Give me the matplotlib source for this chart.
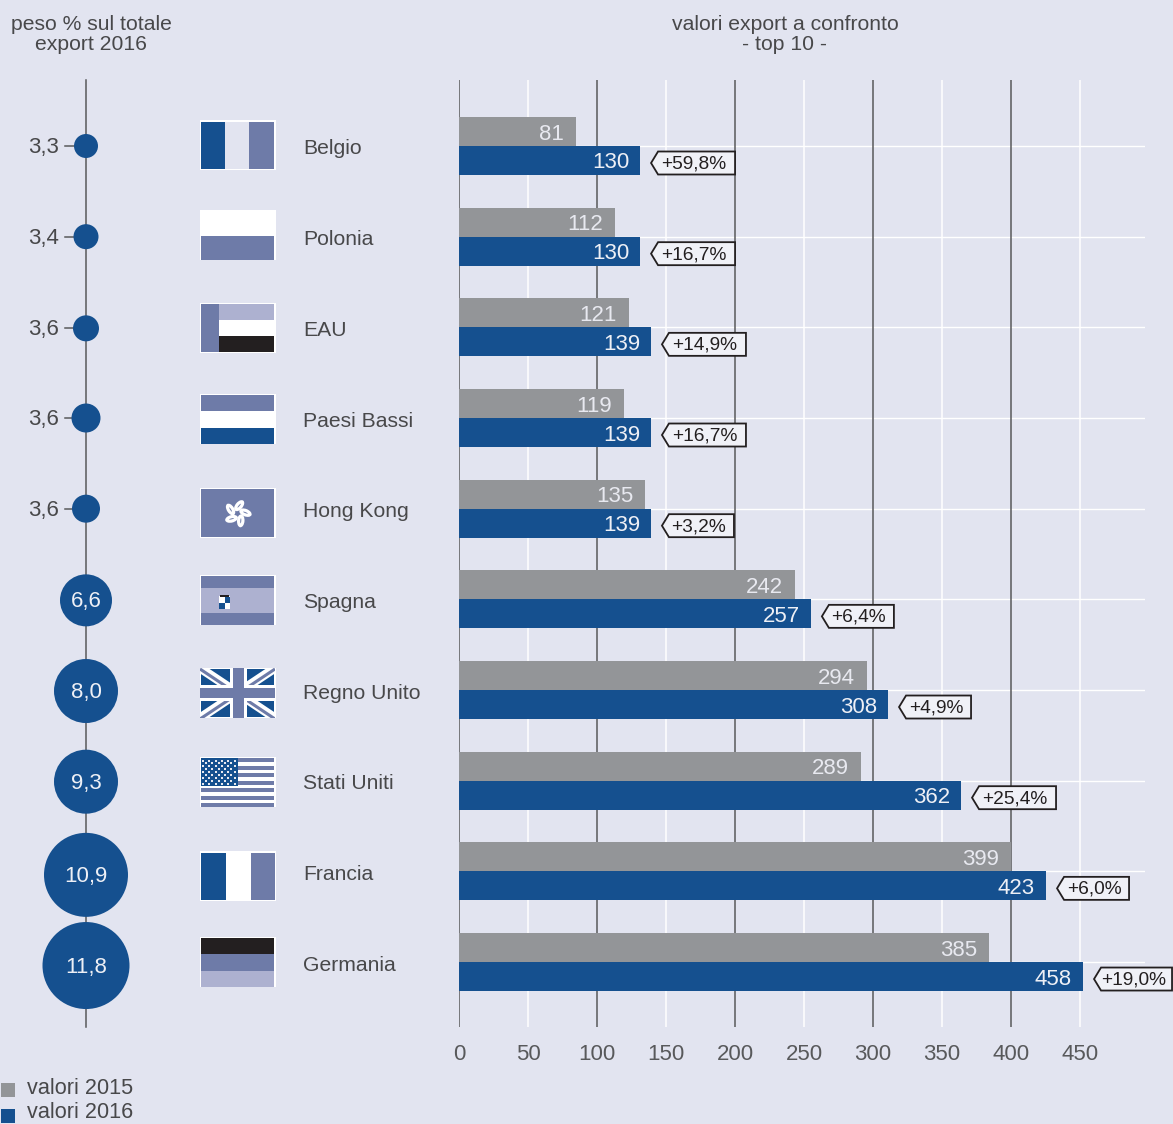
import numpy as np
import matplotlib
matplotlib.use('Agg')
import matplotlib.pyplot as plt
from matplotlib.patches import Rectangle, Circle, Ellipse, Polygon

countries = ['Belgio', 'Polonia', 'EAU', 'Paesi Bassi', 'Hong Kong', 'Spagna', 'Regno Unito', 'Stati Uniti', 'Francia', 'Germania']
# printed values
labels_2015 = [81, 112, 121, 119, 135, 242, 294, 289, 399, 385]
labels_2016 = [130, 130, 139, 139, 139, 257, 308, 362, 423, 458]
# bar lengths, they differ a little from the printed numbers
bars_2015 = [84.8, 113, 123.2, 119.6, 134.8, 243.5, 295.7, 291.3, 400, 384]
bars_2016 = [131.2, 131.2, 139.1, 139.1, 139.1, 255, 310.9, 363.8, 425.4, 452.2]
changes = ['+59,8%', '+16,7%', '+14,9%', '+16,7%', '+3,2%', '+6,4%', '+4,9%', '+25,4%', '+6,0%', '+19,0%']
shares = ['3,3', '3,4', '3,6', '3,6', '3,6', '6,6', '8,0', '9,3', '10,9', '11,8']
bubble_r = [12, 12.5, 13, 14.5, 14, 26, 32, 32, 42, 43.5]
bubble_dy = [0, 0, 1, 0, 0, 1, 1, 1, 3.5, 3.5]
flag_top = [120, 210, 303, 394, 488, 575, 668, 757, 851, 937]
xticks = [0, 50, 100, 150, 200, 250, 300, 350, 400, 450]

BG = '#e2e4f0'
BLUE = '#15508f'
GREY = '#939598'
MID = '#6e7ba8'
LIGHT = '#adb1d0'
BLACK = '#231f20'
TEXT = '#48484a'
W, H = 1173, 1124
ROW0, ROWH = 146, 90.67
PX = 1.38  # pixels per export unit
FS = 16
FS_WORDS = 15.2

plt.rcParams['font.family'] = ['Liberation Sans', 'DejaVu Sans']

fig = plt.figure(figsize=(W / 100, H / 100), dpi=100, facecolor=BG)

# full figure axes in pixels, for everything that is not a bar
bg = fig.add_axes([0, 0, 1, 1])
bg.set_xlim(0, W)
bg.set_ylim(H, 0)
bg.axis('off')

# bar axes
L, R, T, B = 459, 1145, 80, 1027
ax = fig.add_axes([L / W, 1 - B / H, (R - L) / W, (B - T) / H])
ax.set_facecolor('none')
ax.set_xlim(0, (R - L) / PX)
ax.set_ylim((B - ROW0) / ROWH, (T - ROW0) / ROWH)
for s in ax.spines.values():
    s.set_visible(False)

ypos = np.arange(len(countries))
for i in ypos:
    ax.axhline(i, color='white', lw=1, zorder=1)
for t in xticks:
    if t % 100 == 0:
        ax.axvline(t, color='#58595b', lw=1.1, zorder=2)
    else:
        ax.axvline(t, color='white', lw=1.1, zorder=2)

bar_h = 29 / ROWH
ax.barh(ypos - bar_h / 2, bars_2015, height=bar_h, color=GREY, zorder=3)
ax.barh(ypos + bar_h / 2, bars_2016, height=bar_h, color=BLUE, zorder=3)

ax.set_yticks([])
ax.set_xticks(xticks)
ax.tick_params(axis='x', length=0, pad=12, labelsize=FS, labelcolor='#58595b')

for i in ypos:
    a, b, c = bars_2015[i], bars_2016[i], changes[i]
    ax.text(a - 12 / PX, i - bar_h / 2 + 2.5 / ROWH, str(labels_2015[i]), ha='right', va='center', color='#e8e9f0', fontsize=FS, zorder=4)
    ax.text(b - 11 / PX, i + bar_h / 2 + 2.5 / ROWH, str(labels_2016[i]), ha='right', va='center', color='#eef0f6', fontsize=FS, zorder=4)
    # little tag with the change, tip pointing at the bar
    tw = 84 if len(c) > 5 else 72
    if c == '+19,0%':
        tw = 78
    x0 = b + 11 / PX
    x1 = x0 + 7 / PX
    x2 = x0 + tw / PX
    yc = i + bar_h / 2 + 2.5 / ROWH
    hh = 11.5 / ROWH
    tag = Polygon([(x0, yc), (x1, yc - hh), (x2, yc - hh), (x2, yc + hh), (x1, yc + hh)], closed=True,
                  facecolor='#f0f1f7', edgecolor=BLACK, lw=1.3, clip_on=False, zorder=5)
    ax.add_patch(tag)
    ax.text((x1 + x2) / 2 - 2.5 / PX, yc + 1 / ROWH, c, ha='center', va='center', color=BLACK, fontsize=13.8, zorder=6, clip_on=False)

# left column
bg.plot([86, 86], [T, B], color='#58595b', lw=1.1, zorder=1)
for i, (s, r) in enumerate(zip(shares, bubble_r)):
    y = ROW0 + i * ROWH
    yb = y + bubble_dy[i]
    bg.add_patch(Circle((86, yb), r, color=BLUE, lw=0, zorder=3))
    if r < 20:
        bg.plot([65, 86], [yb, yb], color='#58595b', lw=1.1, zorder=2)
        bg.text(59, yb + 1.5, s, ha='right', va='center', color=TEXT, fontsize=FS)
    else:
        bg.text(86, yb + 1.5, s, ha='center', va='center', color='#eef0f6', fontsize=FS, zorder=4)
    bg.text(303, y + 3, countries[i], ha='left', va='center', color=TEXT, fontsize=FS_WORDS)


def rect(x, y, w, h, c, z=3):
    bg.add_patch(Rectangle((x, y), w, h, facecolor=c, edgecolor='none', zorder=z))


def stripes_v(top, colors, widths):
    rect(199.5, top, 76, 50, 'white', 2)
    x = 201
    for c, w in zip(colors, widths):
        rect(x, top + 1.5, w, 47, c)
        x += w


def stripes_h(top, colors, heights):
    rect(199.5, top, 76, 50, 'white', 2)
    y = top + 1
    for c, h in zip(colors, heights):
        rect(201, y, 73, h, c)
        y += h


stripes_v(flag_top[0], [BLUE, BG, MID], [24, 24, 25])
stripes_h(flag_top[1], ['white', MID], [24.5, 24.5])

# EAU
t = flag_top[2]
rect(199.5, t, 76, 50, 'white', 2)
rect(201, t + 1, 18, 48, MID)
rect(219, t + 1, 55, 16, LIGHT)
rect(219, t + 33, 55, 16, BLACK)

stripes_h(flag_top[3], [MID, 'white', BLUE], [16, 16.5, 16.5])

# Hong Kong
t = flag_top[4]
stripes_h(t, [MID], [48])
cx, cy = 237.5, t + 25.5
for ang in [-90, -18, 54, 126, 198]:
    a = np.radians(ang + 12)
    px_, py_ = cx + 8 * np.cos(a), cy + 8 * np.sin(a)
    bg.add_patch(Ellipse((px_, py_), 13, 7.5, angle=ang + 40, color='white', lw=0, zorder=4))
    bg.add_patch(Ellipse((px_, py_), 5, 1, angle=ang + 40, color=MID, lw=0, zorder=5))

# Spagna
t = flag_top[5]
stripes_h(t, [MID, LIGHT, MID], [12, 25, 12])
rect(219, t + 21, 11, 13, 'white', 4)
rect(224.5, t + 22, 5.5, 6, BLUE, 5)
rect(219, t + 28, 5.5, 6, BLUE, 5)
rect(220, t + 20, 9, 2, BLACK, 5)

# Regno Unito
t = flag_top[6]
stripes_h(t, [BLUE], [48])
clip = Rectangle((200, t), 75, 50, transform=bg.transData)
x0, x1, y0, y1 = 200, 275, t, t + 50
for xa, ya, xb, yb in [(x0, y0, x1, y1), (x0, y1, x1, y0)]:
    ln, = bg.plot([xa, xb], [ya, yb], color='white', lw=6.5, solid_capstyle='butt', zorder=4)
    ln.set_clip_path(clip)
    ln, = bg.plot([xa, xb], [ya + 1, yb + 1], color=MID, lw=2.2, solid_capstyle='butt', zorder=4)
    ln.set_clip_path(clip)
rect(230, t, 17, 50, 'white', 5)
rect(200, t + 17, 75, 16, 'white', 5)
rect(233, t, 10.5, 50, MID, 6)
rect(200, t + 20, 75, 10, MID, 6)

# Stati Uniti
t = flag_top[7]
rect(199.5, t, 76, 50, 'white', 2)
for k in range(7):
    rect(201, t + 1 + k * 7.55, 73, 4, MID)
rect(201, t + 1, 37, 27.5, BLUE, 4)
sx, sy = [], []
for r_ in range(9):
    for c_ in range(6 if r_ % 2 == 0 else 5):
        sx.append(203 + c_ * 6.3 + (3.15 if r_ % 2 else 0))
        sy.append(t + 3.5 + r_ * 2.9)
bg.scatter(sx, sy, s=2.2, color='#e8e9f0', marker='s', lw=0, zorder=5)

# Francia
stripes_v(flag_top[8], [BLUE, 'white', MID], [25, 25, 24])
# Germania
stripes_h(flag_top[9], [BLACK, MID, LIGHT], [16, 17, 16])

# headers
bg.text(91, 34.5, 'peso % sul totale\nexport 2016', ha='center', va='center', color=TEXT, fontsize=FS_WORDS, linespacing=1.1)
bg.text(785, 34.5, 'valori export a confronto\n- top 10 -', ha='center', va='center', color=TEXT, fontsize=FS_WORDS, linespacing=1.1)

# legend
rect(1, 1083, 14, 14, GREY)
rect(1, 1109, 14, 14, BLUE)
bg.text(27, 1089, 'valori 2015', ha='left', va='center', color=TEXT, fontsize=15.6)
bg.text(27, 1112.5, 'valori 2016', ha='left', va='center', color=TEXT, fontsize=15.6)

fig.savefig('out.png', dpi=100, facecolor=BG)
